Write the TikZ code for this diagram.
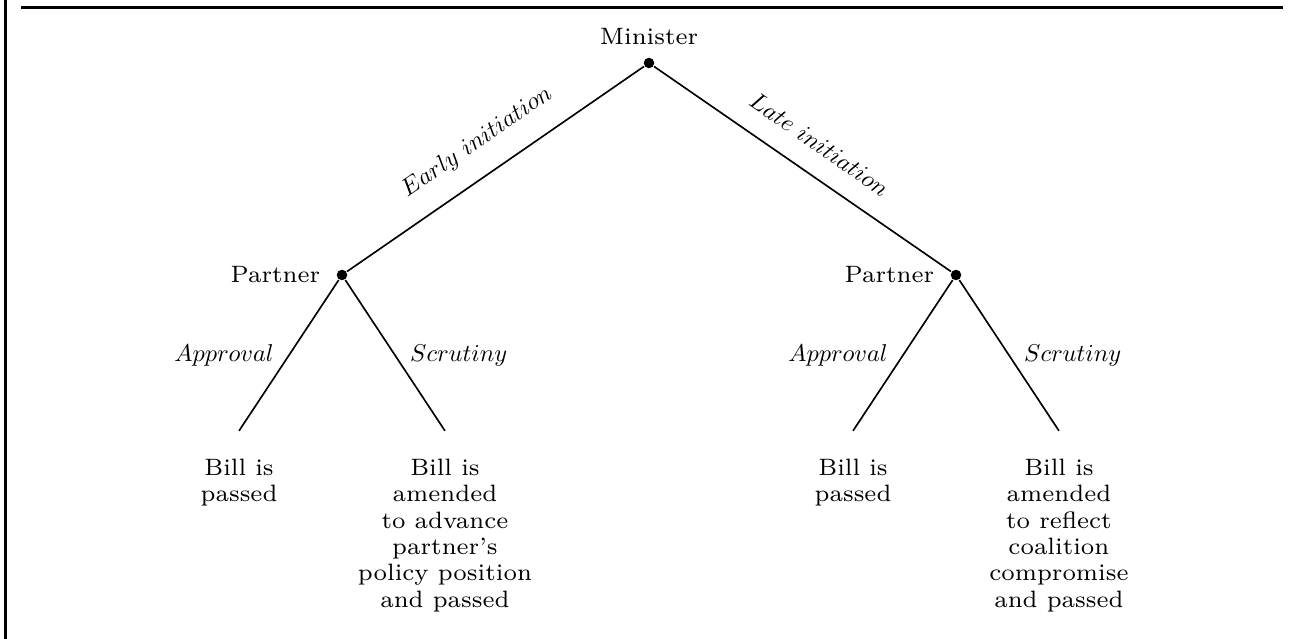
\documentclass[tikz,border=0pt]{standalone}
\usepackage{tikz}
\usetikzlibrary{positioning}
\newcommand{\actlabel}[1]{\scalebox{0.74}{\normalsize$#1$}}

\begin{document}
\begin{tikzpicture}[font=\fontsize{7.2}{8}\selectfont,line width=0.5pt,
    dec/.style={circle,fill,inner sep=0pt,minimum size=3.2pt},
    leaf/.style={align=center,below=5pt of #1}]
          \useasboundingbox (-6.934,-6.154) rectangle (6.902,0.673);
          \draw[line width=0.7pt] (-6.875,-6.154) -- (-6.875,0.673);
          \draw[line width=0.7pt] (-6.71,0.593) -- (6.774,0.593);
          \node[dec,label={[label distance=0pt]above:Minister}] (M) at (0,0) {};
          \node[dec,label={[label distance=1.2pt]left:Partner}] (P1) at (-3.28,-2.265) {};
          \node[dec,label={[label distance=1.2pt]left:Partner}] (P2) at (3.28,-2.265) {};
          \draw (M) -- node[midway,sloped,above=3pt]{\actlabel{Early\ initiation}} (P1);
          \draw (M) -- node[midway,sloped,above=3pt]{\actlabel{Late\ initiation}} (P2);
            \foreach \i in {1,2}{
            \coordinate (A\i) at ([shift={(-1.1,-1.665)}]P\i);
            \coordinate (S\i) at ([shift={(1.1,-1.665)}]P\i);
            \draw (P\i) -- node[midway,left=1pt]{\actlabel{Approval}} (A\i);
            \draw (P\i) -- node[midway,right=1pt]{\actlabel{Scrutiny}} (S\i);
            \node[leaf=A\i] (a\i) {Bill is\\passed};
            }
          \node[leaf=S1] (s1) {Bill is\\amended\\to advance\\partner's\\policy position\\and passed};
          \node[leaf=S2] (s2) {Bill is\\amended\\to reflect\\coalition\\compromise\\and passed};
        \end{tikzpicture}
\end{document}
